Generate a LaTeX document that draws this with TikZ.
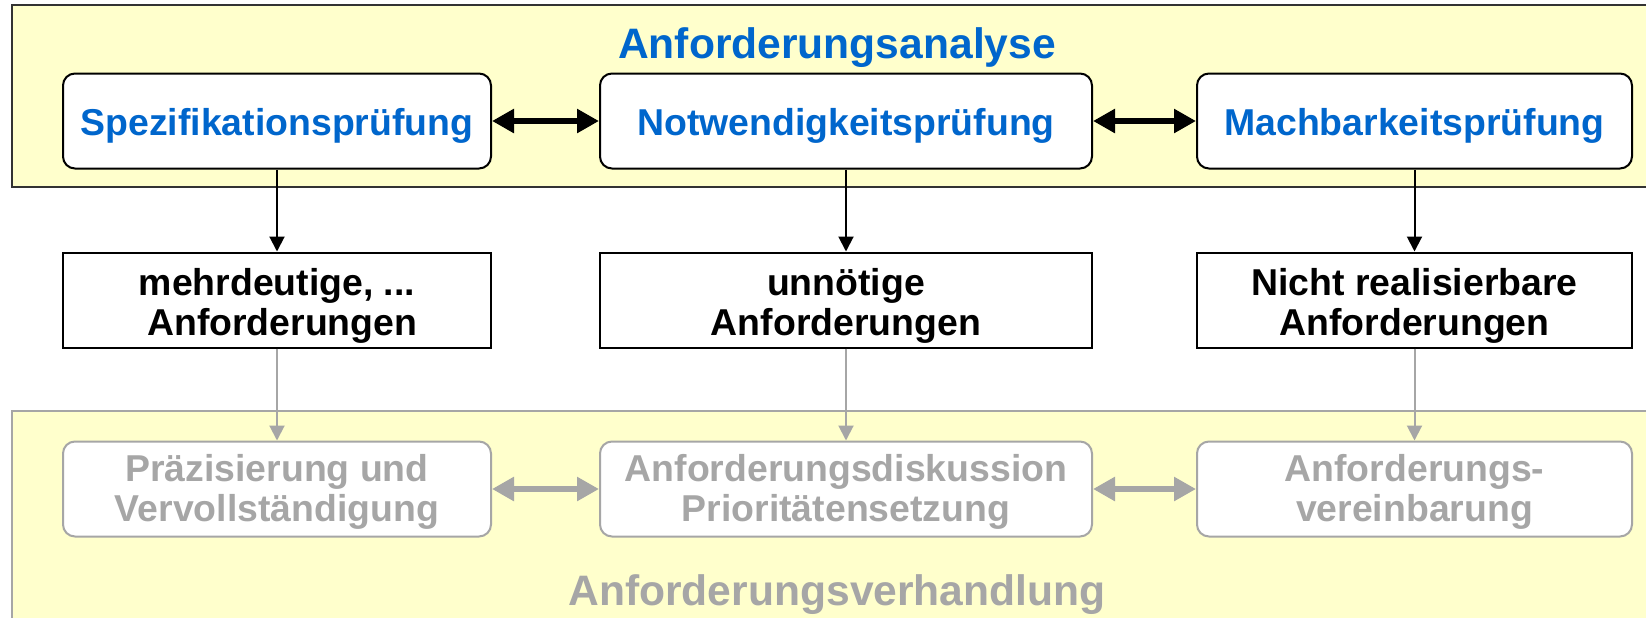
\documentclass[tikz,border=0pt]{standalone}
\usepackage{fontspec}
\setmainfont{Liberation Sans}
\usetikzlibrary{arrows.meta}
\definecolor{paleyellow}{HTML}{FFFFCC}
\definecolor{headblue}{HTML}{0066CC}
\definecolor{fadegray}{HTML}{A6A6A6}
\definecolor{darkframe}{HTML}{333333}
\begin{document}
\begin{tikzpicture}[x=0.5pt,y=-0.5pt,
  boxfont/.style={font=\bfseries\fontsize{18.7}{20}\selectfont},
  titlefont/.style={font=\bfseries\fontsize{21.3}{24}\selectfont},
  stagebox/.style={draw, line width=1pt, rounded corners=6pt, fill=white,
    minimum height=47.5pt, align=center, inner sep=0pt, boxfont},
  resultbox/.style={draw, line width=1pt, fill=white,
    minimum height=47.5pt, align=center, inner sep=0pt, boxfont},
  oneline/.style={text height=18.5pt, text depth=4pt},
  midlines/.style={text height=40pt, text depth=5pt},
  lowlines/.style={text height=37pt, text depth=5pt},
  linkarrow/.style={line width=3.2pt, {Triangle[length=11pt,width=11.5pt]}-{Triangle[length=11pt,width=11.5pt]}},
  downarrow/.style={line width=1pt, -{Triangle[length=7.5pt,width=7.5pt]}},
]
\useasboundingbox (0,0) rectangle (1646,617);
\clip (0,0) rectangle (1646,617);
\fill[white] (0,0) rectangle (1646,617);

% analysis band
\draw[darkframe, line width=1pt, fill=paleyellow] (12,5) rectangle (1700,187);
\node[titlefont, text=headblue] (ana) at (837,48) {Anforderungsanalyse};

% negotiation band
\draw[fadegray, line width=1pt, fill=paleyellow] (12,411) rectangle (1700,700);
\node[titlefont, text=fadegray] (neg) at (837,595) {Anforderungsverhandlung};

% analysis steps
\node[stagebox, oneline, text=headblue, minimum width=214pt] (s1) at (277,121) {Spezifikationsprüfung};
\node[stagebox, oneline, text=headblue, minimum width=246pt] (s2) at (846,121) {Notwendigkeitsprüfung};
\node[stagebox, oneline, text=headblue, minimum width=217.5pt] (s3) at (1414.5,121) {Machbarkeitsprüfung};

% findings
\node[resultbox, midlines, minimum width=214pt] (r1) at (277,300) {mehrdeutige, ...\\\ Anforderungen};
\node[resultbox, midlines, minimum width=246pt] (r2) at (846,300) {unnötige\\Anforderungen};
\node[resultbox, midlines, minimum width=217.5pt] (r3) at (1414.5,300) {Nicht realisierbare\\Anforderungen};

% negotiation steps
\node[stagebox, lowlines, draw=fadegray, text=fadegray, minimum width=214pt] (n1) at (277,489) {Präzisierung und\\Vervollständigung};
\node[stagebox, lowlines, draw=fadegray, text=fadegray, minimum width=246pt] (n2) at (846,489) {Anforderungsdiskussion\\Prioritätensetzung};
\node[stagebox, lowlines, draw=fadegray, text=fadegray, minimum width=217.5pt] (n3) at (1414.5,489) {Anforderungs-\\vereinbarung};

% horizontal links
\draw[linkarrow] (s1) -- (s2);
\draw[linkarrow] (s2) -- (s3);
\draw[linkarrow, fadegray] (n1) -- (n2);
\draw[linkarrow, fadegray] (n2) -- (n3);

% vertical flow
\draw[downarrow] (s1) -- (r1);
\draw[downarrow] (s2) -- (r2);
\draw[downarrow] (s3) -- (r3);
\draw[downarrow, fadegray] (r1) -- (n1);
\draw[downarrow, fadegray] (r2) -- (n2);
\draw[downarrow, fadegray] (r3) -- (n3);
\end{tikzpicture}
\end{document}
